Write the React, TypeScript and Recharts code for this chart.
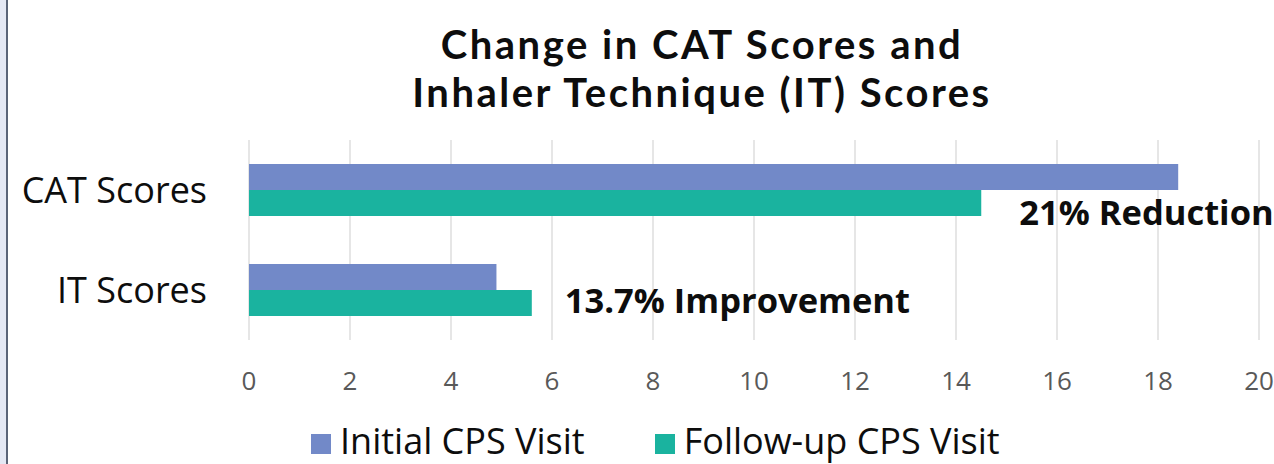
import React from 'react';
import {
  BarChart,
  Bar,
  XAxis,
  YAxis,
  CartesianGrid,
  LabelList,
} from 'recharts';

const categories = ['CAT Scores', 'IT Scores'];
const initialVisit = [18.4, 4.9];
const followUpVisit = [14.5, 5.6];
const changeNotes = ['21% Reduction', '13.7% Improvement'];
const xTicks = [0, 2, 4, 6, 8, 10, 12, 14, 16, 18, 20];

const seriesNames = ['Initial CPS Visit', 'Follow-up CPS Visit'];
const seriesColors = ['#7289C8', '#1AB39F'];

const data = categories.map((name, i) => ({
  name,
  initial: initialVisit[i],
  followUp: followUpVisit[i],
  note: changeNotes[i],
}));

const FONT = '"Open Sans", "Noto Sans", sans-serif';
const TITLE_FONT = 'Lato, "Open Sans", sans-serif';

// annotation drawn to the right of the follow-up bar
const NoteLabel = (props: any) => {
  const { x, y, width, height, index } = props;
  const gap = index === 0 ? 38 : 33;
  const base = index === 0 ? y + height + 9 : y + height - 3;
  return (
    <text
      x={x + width + gap}
      y={base}
      fontFamily={FONT}
      fontSize={34.5}
      fontWeight={700}
      fill="#0d0d0d"
    >
      {changeNotes[index]}
    </text>
  );
};

const App: React.FC = () => {
  return (
    <div
      style={{
        position: 'absolute',
        left: 0,
        top: 0,
        width: 1274,
        height: 464,
        overflow: 'hidden',
        background: '#fff',
        fontFamily: FONT,
      }}
    >
      {/* slide edge on the left */}
      <div style={{ position: 'absolute', left: 0, top: 0, width: 6, height: 464, background: '#E4E8F4' }} />
      <div style={{ position: 'absolute', left: 6, top: 0, width: 2, height: 464, background: '#5A6478' }} />

      <div
        style={{
          position: 'absolute',
          left: 0,
          top: 20,
          width: 1404,
          textAlign: 'center',
          fontFamily: TITLE_FONT,
          fontSize: 40,
          lineHeight: '48px',
          fontWeight: 700,
          letterSpacing: 2.5,
          color: '#0d0d0d',
        }}
      >
        Change in CAT Scores and
        <br />
        Inhaler Technique (IT) Scores
      </div>

      <div style={{ position: 'absolute', left: 8, top: 0 }}>
        <BarChart
          width={1266}
          height={464}
          data={data}
          layout="vertical"
          margin={{ top: 140, right: 15, left: 0, bottom: 0 }}
          barGap={0}
        >
          <CartesianGrid horizontal={false} stroke="#D9D9D9" strokeWidth={1.3} />
          <XAxis
            type="number"
            domain={[0, 20]}
            ticks={xTicks}
            height={124}
            axisLine={false}
            tickLine={false}
            tickMargin={26}
            tick={{ fontSize: 26, fill: '#595959', fontFamily: FONT }}
          />
          <YAxis
            type="category"
            dataKey="name"
            width={241}
            axisLine={false}
            tickLine={false}
            tickMargin={36}
            tick={{ fontSize: 36, fill: '#0d0d0d', fontFamily: FONT }}
          />
          <Bar dataKey="initial" name={seriesNames[0]} fill={seriesColors[0]} barSize={26} isAnimationActive={false} />
          <Bar dataKey="followUp" name={seriesNames[1]} fill={seriesColors[1]} barSize={26} isAnimationActive={false}>
            <LabelList dataKey="note" content={<NoteLabel />} />
          </Bar>
        </BarChart>
      </div>

      <div
        style={{
          position: 'absolute',
          left: 311,
          top: 423,
          display: 'flex',
          alignItems: 'center',
          fontSize: 36,
          lineHeight: '36px',
          color: '#0d0d0d',
        }}
      >
        {seriesNames.map((s, i) => (
          <div key={s} style={{ display: 'flex', alignItems: 'center', marginRight: 70 }}>
            <div style={{ width: 20, height: 20, background: seriesColors[i], marginRight: 9, marginTop: 6 }} />
            <span>{s}</span>
          </div>
        ))}
      </div>
    </div>
  );
};

export default App;
